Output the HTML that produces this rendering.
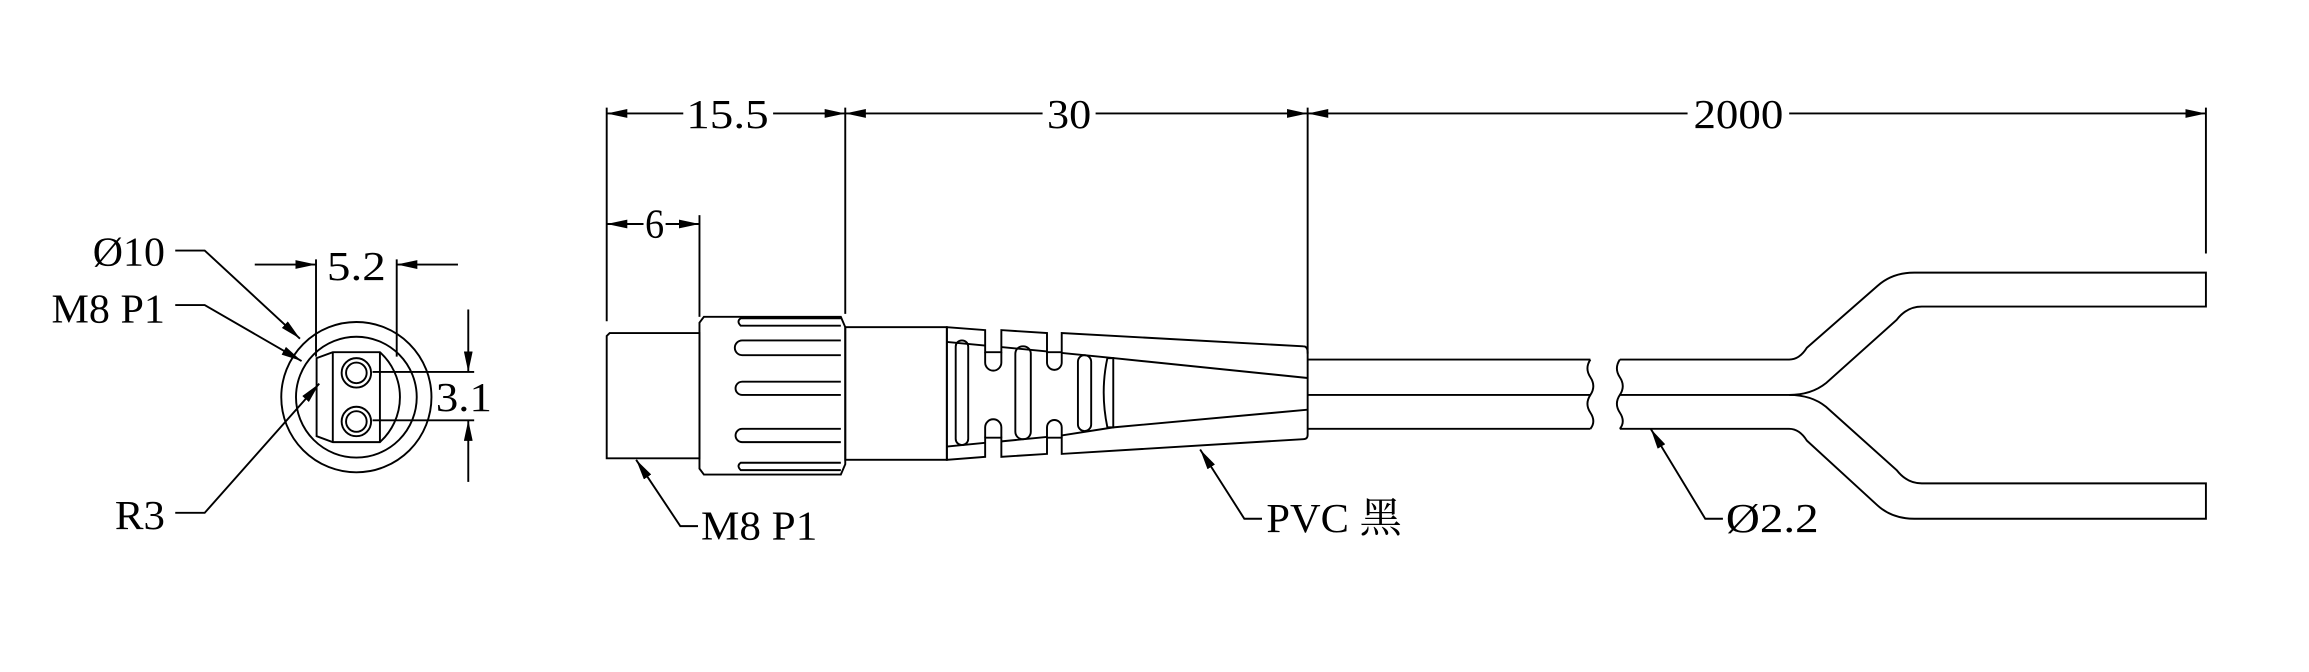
<!DOCTYPE html>
<html><head><meta charset="utf-8"><style>html,body{margin:0;padding:0;background:#fff;}svg{display:block}</style></head>
<body>
<svg width="2309" height="672" viewBox="0 0 1568 456" preserveAspectRatio="none" xmlns="http://www.w3.org/2000/svg">
<defs>
<marker id="a" viewBox="0 0 14 6" refX="14" refY="3" markerWidth="14" markerHeight="6" markerUnits="userSpaceOnUse" orient="auto"><path d="M0,0 L14,3 L0,6 z" fill="#000"/></marker>
</defs>
<g fill="none" stroke="#000" stroke-width="1.3">
<circle cx="242" cy="269.5" r="51"/>
<circle cx="242" cy="269.5" r="41"/>
<path d="M215,243 L226,239 L258,239 A41,41 0 0 1 258,300 L226,300 L215,296 Z"/>
<line x1="226" y1="239" x2="226" y2="300"/>
<line x1="258" y1="239" x2="258" y2="300"/>
<circle cx="242" cy="253" r="10"/><circle cx="242" cy="253" r="7"/>
<circle cx="242" cy="286" r="10"/><circle cx="242" cy="286" r="7"/>
<line x1="214.6" y1="176" x2="214.6" y2="242"/>
<line x1="269.4" y1="176" x2="269.4" y2="242"/>
<line x1="173" y1="179.5" x2="214.6" y2="179.5" marker-end="url(#a)"/>
<line x1="311" y1="179.5" x2="269.4" y2="179.5" marker-end="url(#a)"/>
<line x1="253" y1="252.4" x2="322" y2="252.4"/>
<line x1="253" y1="285.2" x2="322" y2="285.2"/>
<line x1="318" y1="210" x2="318" y2="252.4" marker-end="url(#a)"/>
<line x1="318" y1="327" x2="318" y2="285.2" marker-end="url(#a)"/>
<polyline points="119,170 139,170 203.7,229.8" marker-end="url(#a)"/>
<polyline points="119,207 139,207 204.8,245" marker-end="url(#a)"/>
<polyline points="119,348 139,348 216.8,260.3" marker-end="url(#a)"/>

<line x1="412" y1="73" x2="412" y2="218"/>
<line x1="574" y1="73" x2="574" y2="213"/>
<line x1="888" y1="73" x2="888" y2="240"/>
<line x1="1498" y1="73" x2="1498" y2="172"/>
<line x1="475" y1="146" x2="475" y2="215"/>
<line x1="464" y1="77" x2="412" y2="77" marker-end="url(#a)"/>
<line x1="525" y1="77" x2="574" y2="77" marker-end="url(#a)"/>
<line x1="708" y1="77" x2="574" y2="77" marker-end="url(#a)"/>
<line x1="744" y1="77" x2="888" y2="77" marker-end="url(#a)"/>
<line x1="1146" y1="77" x2="888" y2="77" marker-end="url(#a)"/>
<line x1="1215" y1="77" x2="1498" y2="77" marker-end="url(#a)"/>
<line x1="437" y1="152" x2="412" y2="152" marker-end="url(#a)"/>
<line x1="452" y1="152" x2="475" y2="152" marker-end="url(#a)"/>

<path d="M414,226 L475,226 L475,311 L412,311 L412,228 Z"/>
<path d="M475,219 L478,215 L571,215 L574,222 L574,315 L571,322 L478,322 L475,318 Z"/>
<path d="M571,216 L503,216 Q500,218 503,221 L571,221"/>
<path d="M571,231 L504,231 A4.5,4.5 0 0 0 504,241 L571,241"/>
<path d="M571,259 L504,259 A4.5,4.5 0 0 0 504,268 L571,268"/>
<path d="M571,291 L504,291 A4.5,4.5 0 0 0 504,300 L571,300"/>
<path d="M571,314 L503,314 Q500,316 503,319 L571,319"/>
<rect x="574" y="222" width="69" height="90"/>
<path d="M643,222 L669,224 L669,239 L680,239 L680,224 L711,226 L711,239 L721,239 L721,226 L885,235 Q888,235 888,239 L888,295 Q888,298 885,298 L721,308 L721,297 L711,297 L711,308 L680,310 L680,297 L669,297 L669,310 L643,312 Z"/>
<path d="M669,239 L669,246 A5.5,5.5 0 0 0 680,246 L680,239"/>
<path d="M711,239 L711,246 A5,5 0 0 0 721,246 L721,239"/>
<path d="M669,297 L669,290 A5.5,5.5 0 0 1 680,290 L680,297"/>
<path d="M711,297 L711,290 A5,5 0 0 1 721,290 L721,297"/>
<path d="M643,232 L669,234.5 M680,235.5 L711,238.5 M721,239.5 L756,243 L888,256.5"/>
<path d="M643,303 L669,300.5 M680,299.5 L711,296.5 M721,295.5 L756,290 L888,278"/>
<rect x="649" y="231" width="8.5" height="71" rx="4.2"/>
<rect x="689.5" y="235" width="10.5" height="63" rx="5"/>
<rect x="732" y="241" width="9" height="51.5" rx="4.5"/>
<path d="M756,243 L752,243 Q747,266 752,290 L756,290 Z"/>
<path d="M888,244 L1080,244 M888,268 L1080,268 M888,291 L1080,291"/>
<path d="M1080,244 Q1076,250 1080,256 Q1084,262 1080,268 Q1076,274 1080,280 Q1084,286 1080,291"/>
<path d="M1100,244 Q1096,250 1100,256 Q1104,262 1100,268 Q1096,274 1100,280 Q1104,286 1100,291"/>
<path d="M1100,244 L1215,244 Q1222,244 1227,236 L1275,194 Q1285,185 1300,185 L1498,185 L1498,208 L1305,208 Q1295,208 1288,217 L1240,260 Q1230,268 1215,268"/>
<path d="M1100,268 L1215,268 Q1230,268 1240,276 L1288,319 Q1295,328 1305,328 L1498,328 L1498,352 L1300,352 Q1285,352 1275,343 L1227,299 Q1222,291 1215,291 L1100,291"/>
<polyline points="474,357 462,357 432,312" marker-end="url(#a)"/>
<polyline points="857,352 845,352 815,305" marker-end="url(#a)"/>
<polyline points="1170,352 1158,352 1121,291" marker-end="url(#a)"/>
</g>
<g fill="#000" font-family="'Liberation Serif','Noto Serif CJK SC',serif" font-size="28">
<text x="63" y="180" textLength="49" lengthAdjust="spacingAndGlyphs">Ø10</text>
<text x="35" y="219" textLength="77" lengthAdjust="spacingAndGlyphs">M8 P1</text>
<text x="78" y="359" textLength="34" lengthAdjust="spacingAndGlyphs">R3</text>
<text x="222" y="190" textLength="40" lengthAdjust="spacingAndGlyphs">5.2</text>
<text x="296" y="279" textLength="38" lengthAdjust="spacingAndGlyphs">3.1</text>
<text x="466" y="87" textLength="56" lengthAdjust="spacingAndGlyphs">15.5</text>
<text x="711" y="87" textLength="30" lengthAdjust="spacingAndGlyphs">30</text>
<text x="1150" y="87" textLength="61" lengthAdjust="spacingAndGlyphs">2000</text>
<text x="438" y="161" textLength="13" lengthAdjust="spacingAndGlyphs">6</text>
<text x="476" y="366" textLength="79" lengthAdjust="spacingAndGlyphs">M8 P1</text>
<text x="860" y="361" textLength="92" lengthAdjust="spacingAndGlyphs">PVC 黑</text>
<text x="1172" y="361" textLength="63" lengthAdjust="spacingAndGlyphs">Ø2.2</text>
</g>
</svg>
</body></html>
